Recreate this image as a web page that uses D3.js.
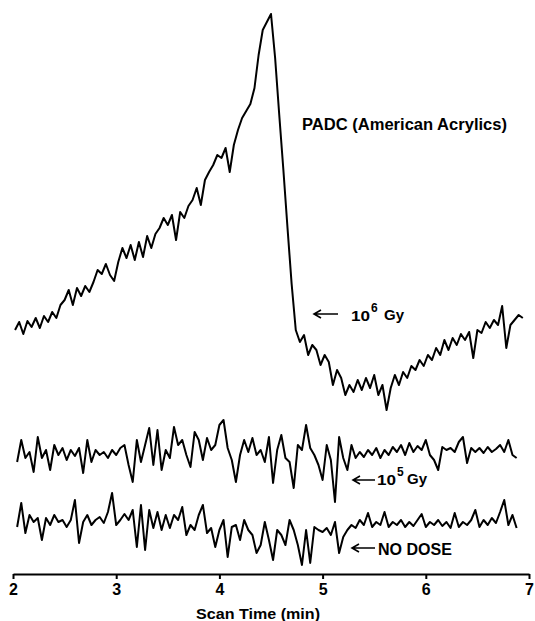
<!DOCTYPE html>
<html>
<head>
<meta charset="utf-8">
<script src="https://cdn.jsdelivr.net/npm/d3@7"></script>
<style>
  body { margin: 0; background: #fff; }
  svg { display: block; }
  .trace { fill: none; stroke: #000; stroke-width: 2; stroke-linejoin: round; }
  .axis path, .axis line { stroke: #000; stroke-width: 2; }
  .axis text, .label { font-family: "Liberation Sans", Arial, sans-serif; font-weight: bold; fill: #000; }
  .arrow { fill: none; stroke: #000; stroke-width: 1.6; }
</style>
</head>
<body>
<svg width="535" height="621"></svg>
<script>
// sampling of the scans (minutes)
const dt = 0.04;
const startHigh = 2.02;   // 10^6 Gy trace
const startLow = 2.04;    // 10^5 Gy and no-dose traces

const xTicks = [2, 3, 4, 5, 6, 7];

// detector signal, arbitrary units (traces are stacked as on the recorder chart)
const dose1e6 = [
  244, 252, 240, 253, 247, 256, 246, 258, 252, 262, 256, 269, 274, 284, 269, 286,
  278, 288, 282, 292, 304, 300, 310, 299, 293, 312, 326, 316, 329, 314, 332, 317,
  338, 326, 340, 346, 356, 349, 359, 334, 362, 356, 368, 374, 386, 369, 394, 402,
  409, 419, 416, 426, 402, 429, 444, 456, 463, 470, 486, 519, 544, 552, 560, 516,
  459, 404, 346, 290, 244, 232, 239, 219, 229, 224, 209, 219, 212, 189, 204, 196,
  179, 189, 182, 194, 184, 196, 186, 199, 179, 189, 164, 186, 199, 189, 202, 196,
  208, 204, 214, 208, 219, 214, 226, 219, 234, 224, 236, 229, 240, 234, 242, 216,
  244, 241, 252, 246, 254, 249, 268, 226, 249, 254, 259, 256
];

const dose1e5 = [
  112, 134, 116, 122, 102, 137, 116, 124, 104, 129, 119, 126, 114, 124, 118, 126,
  101, 134, 112, 124, 119, 122, 116, 124, 119, 126, 129, 109, 92, 134, 112, 129,
  146, 109, 144, 104, 124, 116, 147, 129, 134, 119, 107, 142, 134, 114, 136, 124,
  129, 149, 154, 126, 114, 92, 119, 134, 122, 136, 119, 124, 112, 137, 91, 124,
  139, 116, 112, 86, 129, 124, 149, 126, 119, 109, 94, 129, 114, 72, 137, 116,
  104, 129, 116, 122, 117, 124, 119, 126, 116, 124, 119, 127, 122, 129, 119, 131,
  122, 128, 124, 134, 119, 114, 104, 127, 124, 126, 122, 132, 137, 111, 126, 122,
  126, 121, 127, 122, 125, 129, 122, 134, 119, 116
];

const noDose = [
  47, 71, 41, 59, 52, 56, 34, 56, 49, 59, 52, 54, 47, 54, 74, 31,
  52, 59, 49, 54, 57, 51, 62, 81, 49, 54, 60, 54, 64, 27, 69, 24,
  64, 46, 62, 44, 59, 46, 59, 54, 67, 39, 49, 44, 59, 69, 41, 46,
  27, 44, 54, 17, 47, 49, 34, 54, 44, 39, 21, 29, 52, 34, 14, 44,
  39, 29, 54, 44, 29, 9, 44, 11, 47, 44, 42, 46, 39, 52, 21, 37,
  44, 49, 46, 54, 49, 61, 47, 52, 49, 62, 47, 52, 49, 54, 47, 52,
  48, 54, 60, 47, 52, 49, 54, 48, 52, 46, 61, 47, 52, 49, 54, 64,
  47, 54, 49, 56, 51, 62, 74, 49, 59, 46
];

const svg = d3.select("svg");
const margin = { top: 14, right: 6, bottom: 47, left: 13 };
const width = svg.attr("width") - margin.left - margin.right;
const height = svg.attr("height") - margin.top - margin.bottom;
const g = svg.append("g").attr("transform", `translate(${margin.left},${margin.top})`);

const x = d3.scaleLinear().domain([2, 7]).range([0, width]);
const y = d3.scaleLinear().domain([0, 560]).range([height, 0]);

const toPoints = (values, start) => values.map((v, i) => ({ t: start + i * dt, v: v }));

const line = d3.line()
  .x(d => x(d.t))
  .y(d => y(d.v));

[[dose1e6, startHigh], [dose1e5, startLow], [noDose, startLow]].forEach(([values, start]) => {
  g.append("path")
    .datum(toPoints(values, start))
    .attr("class", "trace")
    .attr("d", line);
});

// x axis
const axis = g.append("g")
  .attr("class", "axis")
  .attr("transform", `translate(0,${height})`)
  .call(d3.axisBottom(x)
    .tickValues(xTicks)
    .tickFormat(d3.format("d"))
    .tickSize(5)
    .tickSizeOuter(0)
    .tickPadding(5));
axis.selectAll("text").attr("font-size", 16);

svg.append("text")
  .attr("class", "label")
  .attr("x", 258)
  .attr("y", 619)
  .attr("text-anchor", "middle")
  .attr("font-size", 15)
  .attr("textLength", 124)
  .attr("lengthAdjust", "spacingAndGlyphs")
  .text("Scan Time (min)");

// annotations
svg.append("text")
  .attr("class", "label")
  .attr("x", 302)
  .attr("y", 130)
  .attr("font-size", 16)
  .attr("textLength", 205)
  .attr("lengthAdjust", "spacingAndGlyphs")
  .text("PADC (American Acrylics)");

const arrow = (x1, x2, yy) => {
  svg.append("path")
    .attr("class", "arrow")
    .attr("d", `M${x2},${yy}L${x1},${yy}M${x1 + 7},${yy - 4}L${x1},${yy}L${x1 + 7},${yy + 4}`);
};

const doseLabel = (x0, base, exp, gyX) => {
  svg.append("text").attr("class", "label").attr("x", x0).attr("y", base)
    .attr("font-size", 15).attr("textLength", 19).attr("lengthAdjust", "spacingAndGlyphs").text("10");
  svg.append("text").attr("class", "label").attr("x", x0 + 20).attr("y", base - 9)
    .attr("font-size", 12).text(exp);
  svg.append("text").attr("class", "label").attr("x", gyX).attr("y", base - 1)
    .attr("font-size", 15).text("Gy");
};

arrow(314, 338, 314);
doseLabel(351, 321, "6", 384);

arrow(353, 375, 480);
doseLabel(377, 485, "5", 407);

arrow(352, 375, 548);
svg.append("text")
  .attr("class", "label")
  .attr("x", 378)
  .attr("y", 555)
  .attr("font-size", 17)
  .attr("textLength", 74)
  .attr("lengthAdjust", "spacingAndGlyphs")
  .text("NO DOSE");
</script>
</body>
</html>
